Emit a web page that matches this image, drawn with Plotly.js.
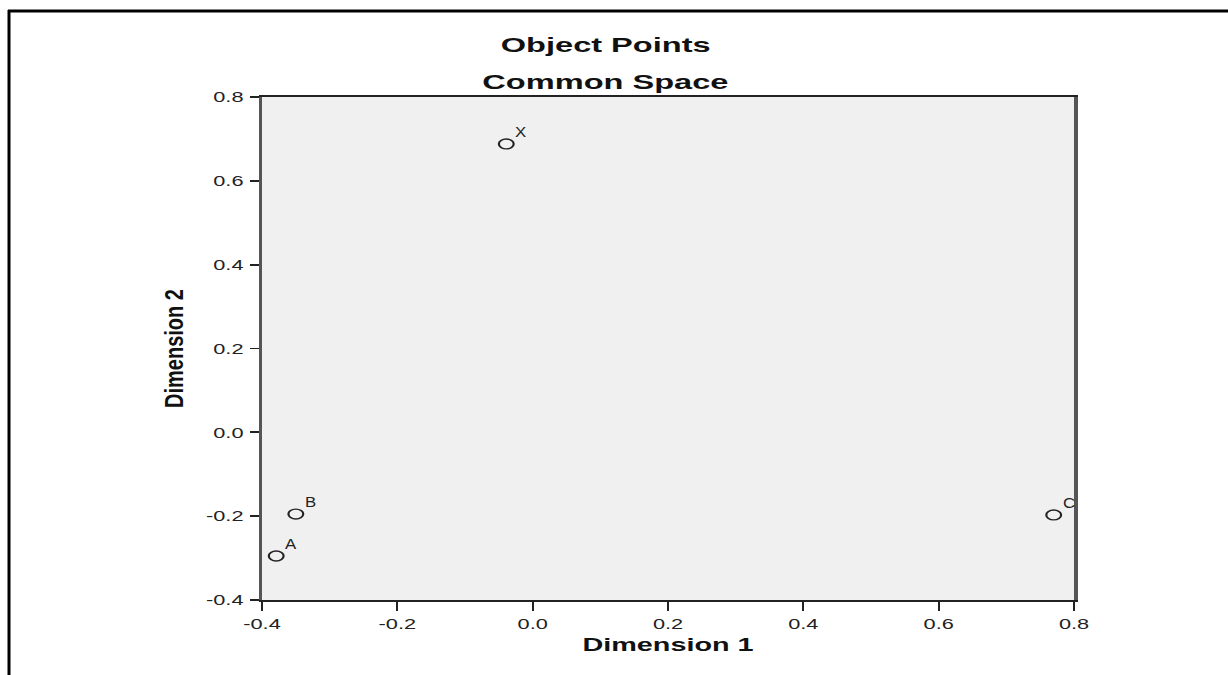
<!DOCTYPE html>
<html>
<head>
<meta charset="utf-8">
<script src="https://cdn.plot.ly/plotly-3.0.1.min.js"></script>
<style>
html,body{margin:0;padding:0;background:#fff;}
#chart{width:1228px;height:675px;}
</style>
</head>
<body>
<div id="chart"></div>
<script>
const labels = ["X", "B", "A", "C"];
const dim1 = [-0.039, -0.350, -0.379, 0.770];
const dim2 = [0.688, -0.195, -0.295, -0.197];
const tickVals = [-0.4, -0.2, 0.0, 0.2, 0.4, 0.6, 0.8];
const tickText = ["-0.4", "-0.2", "0.0", "0.2", "0.4", "0.6", "0.8"];

const FONT = "Liberation Sans, Arial, sans-serif";

const trace = {
  x: dim1, y: dim2,
  mode: "markers", type: "scatter",
  marker: {symbol: "circle-open", size: 11, color: "#222", line: {width: 1.6, color: "#222"}},
  hoverinfo: "none", cliponaxis: false
};

const pointLabels = labels.map(function(t, i){
  return {text: t, x: dim1[i], y: dim2[i], xref: "x", yref: "y", showarrow: false,
          xanchor: "left", yanchor: "bottom", xshift: 8, yshift: 2,
          font: {family: FONT, size: 14, color: "#222"}};
});

const L = 262, R = 1074, T = 97, B = 600, W = 1228, H = 675;
function px(x){return (x - L) / (R - L);}
function py(y){return (B - y) / (B - T);}

const layout = {
  width: W, height: H,
  margin: {l: L, r: W - R, t: T, b: H - B, pad: 0},
  paper_bgcolor: "#ffffff", plot_bgcolor: "#f0f0f0",
  showlegend: false,
  font: {family: FONT, color: "#222"},
  xaxis: {
    range: [-0.4, 0.8], tickvals: tickVals, ticktext: tickText,
    ticks: "outside", ticklen: 9, tickwidth: 1.8, tickcolor: "#222",
    showgrid: false, zeroline: false,
    showline: true, linecolor: "#222", linewidth: 1.8, mirror: true,
    tickfont: {size: 15, color: "#222"},
    title: {text: "<b>Dimension 1</b>", font: {size: 18, color: "#111"}, standoff: 8}
  },
  yaxis: {
    range: [-0.4, 0.8], tickvals: tickVals, ticktext: tickText,
    ticks: "outside", ticklen: 9, tickwidth: 1.8, tickcolor: "#222",
    ticklabelstandoff: 3,
    showgrid: false, zeroline: false,
    showline: true, linecolor: "#555", linewidth: 3.5, mirror: true,
    tickfont: {size: 15, color: "#222"},
    title: {text: "<b>Dimension 2</b>", font: {size: 25, color: "#111"}, standoff: 28}
  },
  annotations: [
    {text: "<b>Object Points</b>", xref: "paper", yref: "paper", x: px(605), y: py(44), showarrow: false, xanchor: "center", yanchor: "middle", font: {size: 21, color: "#111"}},
    {text: "<b>Common Space</b>", xref: "paper", yref: "paper", x: px(605), y: py(81), showarrow: false, xanchor: "center", yanchor: "middle", font: {size: 21, color: "#111"}}
  ].concat(pointLabels),
  shapes: [
    {type: "line", xref: "paper", yref: "paper", x0: px(9), x1: px(9), y0: py(10), y1: py(H + 5), line: {color: "#000", width: 3}},
    {type: "line", xref: "paper", yref: "paper", x0: px(8), x1: px(W + 5), y0: py(11), y1: py(11), line: {color: "#000", width: 3}}
  ]
};

Plotly.newPlot("chart", [trace], layout, {displayModeBar: false, staticPlot: true}).then(function(gd){
  function stretch(nodes, f){
    nodes.forEach(function(t){
      const w = t.getComputedTextLength();
      if (w > 0) { t.setAttribute("textLength", w * f); t.setAttribute("lengthAdjust", "spacingAndGlyphs"); }
    });
  }
  stretch(gd.querySelectorAll(".xtick text, .ytick text"), 1.45);
  const ann = gd.querySelectorAll(".annotation-text");
  stretch([ann[0], ann[1]], 1.55);
  stretch(Array.prototype.slice.call(ann, 2), 1.2);
  stretch(gd.querySelectorAll(".xtitle"), 1.6);
  stretch(gd.querySelectorAll(".ytitle"), 0.8);
  gd.querySelectorAll(".scatterlayer .point").forEach(function(p){
    p.setAttribute("transform", (p.getAttribute("transform") || "") + " scale(1.35,0.9)");
  });
});
</script>
</body>
</html>
